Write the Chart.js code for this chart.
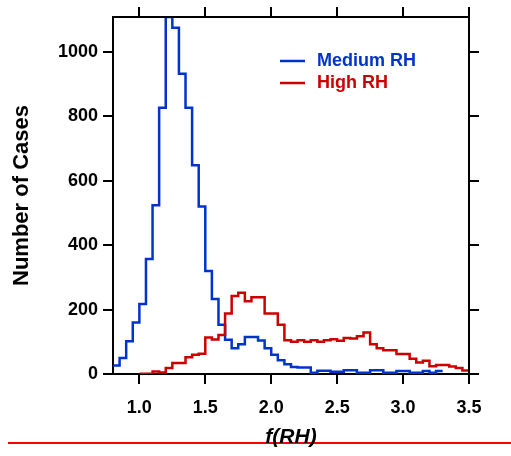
<!DOCTYPE html>
<html><head><meta charset="utf-8">
<script src="https://cdn.jsdelivr.net/npm/chart.js@4.4.0/dist/chart.umd.min.js"></script>
<style>
html,body{margin:0;padding:0;background:#fff;}
#wrap{position:relative;width:511px;height:456px;overflow:hidden;}
#redline{position:absolute;left:8px;top:442px;width:503px;height:2px;background:#ff0000;}
canvas{position:absolute;left:0;top:0;}
</style></head><body>
<div id="wrap"><div id="redline"></div><canvas id="c" width="511" height="456"></canvas></div>
<script>
// Bin left edges (last entry is the right edge of the final bin)
const binEdges = [0.80,0.85,0.90,0.95,1.00,1.05,1.10,1.15,1.20,1.25,1.30,1.35,1.40,1.45,1.50,1.55,1.60,1.65,1.70,1.75,
  1.80,1.85,1.90,1.95,2.00,2.05,2.10,2.15,2.20,2.25,2.30,2.35,2.40,2.45,2.50,2.55,2.60,2.65,2.70,2.75,
  2.80,2.85,2.90,2.95,3.00,3.05,3.10,3.15,3.20,3.25,3.30,3.35,3.40,3.45,3.50];
const seriesNames = ["Medium RH", "High RH"];
const mediumRH = [26,50,102,160,217,357,524,826,1108,1075,932,826,648,520,320,233,153,106,80,92,
  115,115,104,80,60,43,30,22,20,20,4,10,10,7,7,12,12,4,4,12,
  12,4,4,9,9,4,4,9,4,9];
const highRH = [null,null,null,null,1,1,8,5,19,34,34,52,60,63,113,107,121,188,242,252,
  226,238,238,188,188,153,105,100,105,100,105,100,105,108,103,112,110,117,129,92,
  80,74,74,62,62,47,36,41,24,28,28,23,19,11];
const xTickValues = [1.0,1.5,2.0,2.5,3.0,3.5];
const yTickValues = [0,200,400,600,800,1000];
const xRange = [0.8, 3.5];
const yRange = [0, 1108];
const colors = ["#0033cc", "#cc0000"];

function stepPoints(vals){
  const pts = [];
  let last = null;
  vals.forEach((v,i)=>{ if(v!==null){ pts.push({x:binEdges[i], y:v}); last = i; } });
  if(last!==null) pts.push({x:binEdges[last+1], y:vals[last]});
  return pts;
}

const FONT = "'Liberation Sans', Arial, sans-serif";

const framePlugin = {
  id:'frame',
  afterDraw(chart){
    const ctx = chart.ctx;
    const {left,right,top,bottom} = chart.chartArea;
    const xs = chart.scales.x, ys = chart.scales.y;
    ctx.save();
    ctx.strokeStyle = '#000'; ctx.lineWidth = 2; ctx.lineCap='butt';
    ctx.beginPath();
    ctx.moveTo(left-1, top); ctx.lineTo(right, top); ctx.lineTo(right, bottom+1);
    ctx.stroke();
    ctx.beginPath();
    xTickValues.forEach(v=>{ const px = Math.round(xs.getPixelForValue(v)); ctx.moveTo(px, top); ctx.lineTo(px, top-10); });
    yTickValues.forEach(v=>{ const py = Math.round(ys.getPixelForValue(v)); ctx.moveTo(right, py); ctx.lineTo(right+10, py); });
    ctx.stroke();
    // legend
    ctx.font = "bold 18px " + FONT;
    ctx.textBaseline = 'middle';
    ctx.textAlign = 'left';
    const ly = [61, 83];
    chart.data.datasets.forEach((ds,i)=>{
      ctx.strokeStyle = ds.borderColor; ctx.lineWidth = 2.5;
      ctx.beginPath(); ctx.moveTo(280, ly[i]); ctx.lineTo(305, ly[i]); ctx.stroke();
      ctx.fillStyle = ds.borderColor;
      ctx.fillText(ds.label, 317, ly[i]);
    });
    ctx.restore();
  }
};

new Chart(document.getElementById('c'), {
  type:'line',
  data:{
    datasets:[
      {label:seriesNames[0], data:stepPoints(mediumRH), borderColor:colors[0], backgroundColor:colors[0], borderWidth:2.5, stepped:'before', pointRadius:0, fill:false, order:1},
      {label:seriesNames[1], data:stepPoints(highRH), borderColor:colors[1], backgroundColor:colors[1], borderWidth:2.5, stepped:'before', pointRadius:0, fill:false, order:0}
    ]
  },
  options:{
    responsive:false, animation:false, devicePixelRatio:1,
    layout:{padding:{top:17,right:42,left:0,bottom:0}},
    plugins:{legend:{display:false}, tooltip:{enabled:false}},
    scales:{
      x:{type:'linear', min:xRange[0], max:xRange[1],
        afterBuildTicks:(s)=>{ s.ticks = xTickValues.map(v=>({value:v})); },
        afterFit:(s)=>{ s.height = 82; },
        ticks:{color:'#000', font:{family:FONT, size:18, weight:'bold'}, padding:13, maxRotation:0, autoSkip:false,
          callback:(v)=>Number(v).toFixed(1)},
        grid:{display:true, drawOnChartArea:false, drawTicks:true, tickLength:10, color:'#000', lineWidth:2},
        border:{display:true, color:'#000', width:2},
        title:{display:true, text:'f(RH)', color:'#000', font:{family:FONT, size:21, weight:'bold', style:'italic'}, padding:{top:0,bottom:6}}
      },
      y:{type:'linear', min:yRange[0], max:yRange[1],
        afterBuildTicks:(s)=>{ s.ticks = yTickValues.map(v=>({value:v})); },
        afterFit:(s)=>{ s.width = 113; },
        ticks:{color:'#000', font:{family:FONT, size:18, weight:'bold'}, padding:5, autoSkip:false,
          callback:(v)=>String(v)},
        grid:{display:true, drawOnChartArea:false, drawTicks:true, tickLength:10, color:'#000', lineWidth:2},
        border:{display:true, color:'#000', width:2},
        title:{display:true, text:'Number of Cases', color:'#000', font:{family:FONT, size:22, weight:'bold'}, padding:{top:9,bottom:0}}
      }
    }
  },
  plugins:[framePlugin]
});
</script>
</body></html>
